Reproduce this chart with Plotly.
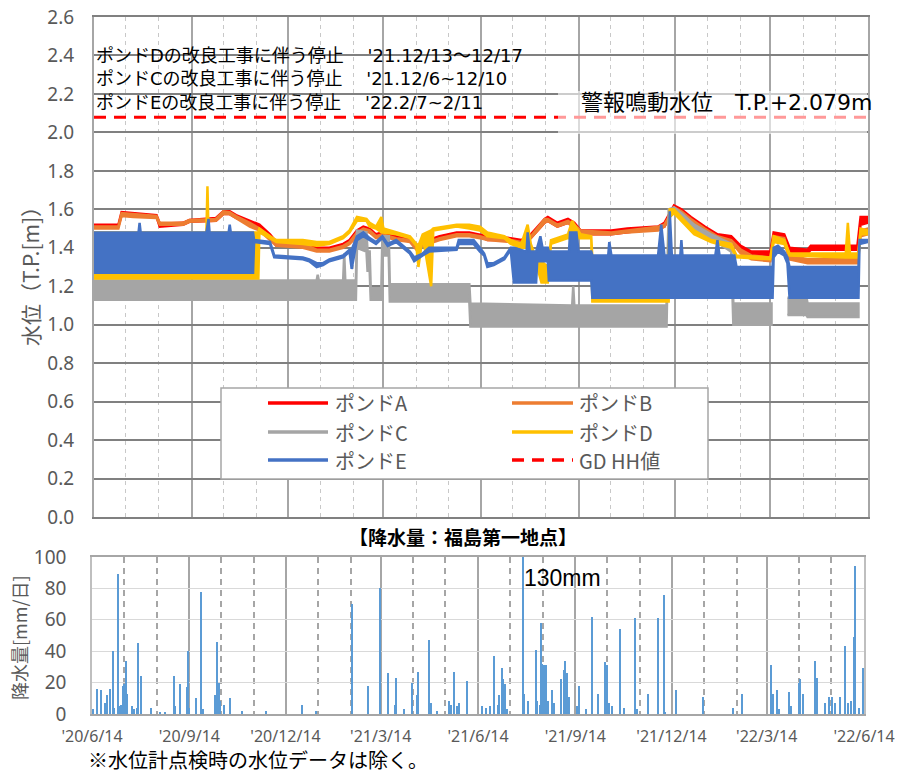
import plotly.graph_objects as go

W, H = 899, 774

# ---------------- water level envelopes (date, low, high) ----------------
# a None row splits a series into separate pieces
POND_A = [
    ("2020-06-14", 1.51, 1.52), ("2020-07-07", 1.51, 1.52), ("2020-07-10", 1.57, 1.585),
    ("2020-07-21", 1.565, 1.58), ("2020-08-12", 1.56, 1.57), ("2020-08-15", 1.51, 1.525),
    ("2020-09-06", 1.52, 1.53), ("2020-09-12", 1.535, 1.545), ("2020-10-07", 1.54, 1.555),
    ("2020-10-14", 1.575, 1.59), ("2020-10-20", 1.575, 1.59), ("2020-10-26", 1.555, 1.57),
    ("2020-11-08", 1.52, 1.54), ("2020-11-17", 1.50, 1.52), ("2020-11-27", 1.45, 1.47),
    ("2020-12-03", 1.41, 1.43), ("2020-12-28", 1.41, 1.43), ("2021-01-10", 1.385, 1.40),
    ("2021-01-22", 1.39, 1.40), ("2021-02-04", 1.41, 1.42), ("2021-02-10", 1.43, 1.44),
    ("2021-02-17", 1.47, 1.49), ("2021-02-23", 1.50, 1.51), ("2021-03-01", 1.48, 1.50),
    ("2021-03-07", 1.46, 1.47), ("2021-03-13", 1.47, 1.48), ("2021-03-26", 1.45, 1.46),
    ("2021-04-08", 1.44, 1.45), ("2021-04-14", 1.40, 1.41), ("2021-04-20", 1.42, 1.43),
    ("2021-05-06", 1.45, 1.46), ("2021-05-22", 1.47, 1.48), ("2021-06-03", 1.47, 1.48),
    ("2021-06-13", 1.46, 1.47), ("2021-06-20", 1.44, 1.46), ("2021-07-12", 1.44, 1.45),
    ("2021-07-22", 1.42, 1.44), ("2021-07-31", 1.45, 1.47), ("2021-08-13", 1.53, 1.55),
    ("2021-08-16", 1.54, 1.56), ("2021-08-25", 1.51, 1.53), ("2021-09-04", 1.53, 1.55),
    ("2021-09-10", 1.51, 1.53), ("2021-09-16", 1.47, 1.49), ("2021-10-15", 1.47, 1.49),
    ("2021-10-30", 1.48, 1.50), ("2021-11-28", 1.50, 1.51), ("2021-12-04", 1.51, 1.53),
    ("2021-12-13", 1.60, 1.62), ("2021-12-20", 1.58, 1.60), ("2021-12-29", 1.54, 1.56),
    ("2022-01-11", 1.49, 1.51), ("2022-01-23", 1.45, 1.47), ("2022-02-05", 1.44, 1.46),
    ("2022-02-14", 1.38, 1.41), ("2022-02-24", 1.36, 1.38), ("2022-03-14", 1.36, 1.38),
    ("2022-03-17", 1.46, 1.48), ("2022-03-27", 1.45, 1.47), ("2022-04-01", 1.38, 1.40),
    ("2022-04-18", 1.37, 1.39), ("2022-04-21", 1.39, 1.41), ("2022-06-04", 1.39, 1.41),
    ("2022-06-07", 1.52, 1.56), ("2022-06-14", 1.53, 1.56),
]

POND_B = [
    ("2020-06-14", 1.50, 1.51), ("2020-07-07", 1.50, 1.51), ("2020-07-10", 1.565, 1.58),
    ("2020-07-21", 1.56, 1.575), ("2020-08-12", 1.555, 1.565), ("2020-08-15", 1.52, 1.53),
    ("2020-09-06", 1.52, 1.53), ("2020-09-12", 1.535, 1.545), ("2020-10-07", 1.54, 1.55),
    ("2020-10-14", 1.575, 1.59), ("2020-10-20", 1.575, 1.585), ("2020-10-26", 1.555, 1.565),
    ("2020-11-08", 1.51, 1.53), ("2020-11-17", 1.49, 1.50), ("2020-11-27", 1.44, 1.46),
    ("2020-12-03", 1.41, 1.42), ("2020-12-28", 1.40, 1.42), ("2021-01-10", 1.38, 1.39),
    ("2021-01-22", 1.38, 1.39), ("2021-02-04", 1.40, 1.41), ("2021-02-10", 1.42, 1.43),
    ("2021-02-17", 1.46, 1.48), ("2021-02-23", 1.49, 1.50), ("2021-03-01", 1.48, 1.49),
    ("2021-03-07", 1.45, 1.46), ("2021-03-13", 1.46, 1.47), ("2021-03-26", 1.44, 1.45),
    ("2021-04-08", 1.43, 1.44), ("2021-04-14", 1.39, 1.40), ("2021-04-20", 1.41, 1.42),
    ("2021-05-06", 1.44, 1.45), ("2021-05-22", 1.46, 1.47), ("2021-06-03", 1.46, 1.47),
    ("2021-06-13", 1.45, 1.46), ("2021-06-20", 1.44, 1.45), ("2021-07-12", 1.43, 1.44),
    ("2021-07-22", 1.41, 1.43), ("2021-07-31", 1.45, 1.46), ("2021-08-13", 1.53, 1.55),
    ("2021-08-16", 1.54, 1.55), ("2021-08-25", 1.51, 1.52), ("2021-09-04", 1.53, 1.54),
    ("2021-09-10", 1.50, 1.52), ("2021-09-16", 1.47, 1.49), ("2021-10-15", 1.47, 1.48),
    ("2021-10-30", 1.48, 1.49), ("2021-11-28", 1.49, 1.51), ("2021-12-04", 1.51, 1.52),
    ("2021-12-13", 1.60, 1.61), ("2021-12-20", 1.57, 1.59), ("2021-12-29", 1.53, 1.55),
    ("2022-01-11", 1.48, 1.50), ("2022-01-23", 1.44, 1.46), ("2022-02-05", 1.43, 1.44),
    ("2022-02-14", 1.37, 1.39), ("2022-02-24", 1.34, 1.36), ("2022-03-14", 1.33, 1.35),
    ("2022-03-17", 1.44, 1.46), ("2022-03-27", 1.43, 1.45), ("2022-04-01", 1.34, 1.36),
    ("2022-04-18", 1.32, 1.34), ("2022-06-04", 1.32, 1.34), ("2022-06-07", 1.46, 1.49),
    ("2022-06-14", 1.47, 1.50),
]

POND_C = [
    ("2020-06-14", 1.13, 1.23), ("2021-01-10", 1.13, 1.23), ("2021-01-11", 1.13, 1.26),
    ("2021-01-12", 1.13, 1.23), ("2021-02-04", 1.13, 1.23), ("2021-02-05", 1.13, 1.37),
    ("2021-02-06", 1.13, 1.23), ("2021-02-16", 1.13, 1.23), ("2021-02-17", 1.40, 1.49),
    ("2021-02-26", 1.38, 1.48), ("2021-02-27", 1.28, 1.38), ("2021-03-01", 1.28, 1.38),
    ("2021-03-02", 1.13, 1.19), ("2021-03-12", 1.13, 1.19), ("2021-03-13", 1.36, 1.46),
    ("2021-03-19", 1.36, 1.46), ("2021-03-20", 1.12, 1.21), ("2021-06-03", 1.12, 1.21),
    ("2021-06-04", 0.99, 1.11), ("2021-09-08", 0.99, 1.10), ("2021-09-09", 0.99, 1.20),
    ("2021-09-10", 0.99, 1.10), ("2021-12-06", 0.99, 1.10), ("2021-12-08", 1.56, 1.60),
    ("2021-12-13", 1.58, 1.61), ("2021-12-20", 1.55, 1.58), ("2022-01-01", 1.50, 1.52),
    ("2022-01-17", 1.45, 1.47), ("2022-02-05", 1.38, 1.42), ("2022-02-07", 1.00, 1.11),
    ("2022-03-15", 1.00, 1.11),
    None,
    ("2022-03-30", 1.05, 1.14), ("2022-04-17", 1.05, 1.14), ("2022-04-18", 1.04, 1.11),
    ("2022-06-05", 1.04, 1.11),
]

POND_D = [
    ("2020-06-14", 1.24, 1.48), ("2020-09-28", 1.24, 1.48), ("2020-09-29", 1.24, 1.72),
    ("2020-09-30", 1.24, 1.48), ("2020-11-16", 1.24, 1.48), ("2020-11-17", 1.48, 1.50),
    ("2020-11-27", 1.45, 1.46), ("2020-12-03", 1.43, 1.44), ("2020-12-28", 1.42, 1.44),
    ("2021-01-10", 1.41, 1.43), ("2021-01-22", 1.42, 1.43), ("2021-02-04", 1.45, 1.46),
    ("2021-02-10", 1.48, 1.49), ("2021-02-17", 1.54, 1.56), ("2021-02-26", 1.54, 1.55),
    ("2021-03-01", 1.51, 1.53), ("2021-03-07", 1.50, 1.51), ("2021-03-12", 1.48, 1.56),
    ("2021-03-14", 1.48, 1.50), ("2021-03-26", 1.47, 1.48), ("2021-04-08", 1.45, 1.46),
    ("2021-04-14", 1.41, 1.42), ("2021-04-16", 1.30, 1.41), ("2021-04-20", 1.46, 1.47),
    ("2021-04-28", 1.20, 1.49), ("2021-04-30", 1.49, 1.50), ("2021-05-22", 1.51, 1.52),
    ("2021-06-03", 1.50, 1.52), ("2021-06-13", 1.49, 1.51), ("2021-06-20", 1.46, 1.48),
    ("2021-07-06", 1.45, 1.46), ("2021-07-12", 1.42, 1.44), ("2021-07-22", 1.40, 1.42),
    ("2021-07-28", 1.40, 1.52), ("2021-07-31", 1.40, 1.42), ("2021-08-06", 1.30, 1.33),
    ("2021-08-10", 1.22, 1.33), ("2021-08-16", 1.22, 1.30), ("2021-08-19", 1.42, 1.44),
    ("2021-09-04", 1.45, 1.47), ("2021-09-08", 1.45, 1.54), ("2021-09-16", 1.45, 1.47),
    ("2021-09-26", 1.45, 1.46), ("2021-09-27", 1.12, 1.35), ("2021-12-08", 1.12, 1.35),
    ("2021-12-09", 1.56, 1.60), ("2021-12-13", 1.58, 1.60), ("2021-12-20", 1.54, 1.56),
    ("2022-01-01", 1.47, 1.49), ("2022-01-17", 1.43, 1.44), ("2022-02-05", 1.40, 1.42),
    ("2022-02-10", 1.35, 1.36), ("2022-03-14", 1.34, 1.35), ("2022-03-17", 1.43, 1.46),
    ("2022-03-27", 1.42, 1.44), ("2022-04-01", 1.36, 1.37), ("2022-05-24", 1.35, 1.37),
    ("2022-05-26", 1.35, 1.53), ("2022-05-28", 1.35, 1.37), ("2022-06-05", 1.35, 1.37),
    ("2022-06-07", 1.47, 1.50), ("2022-06-14", 1.47, 1.49),
]

POND_E = [
    ("2020-06-14", 1.27, 1.48), ("2020-07-26", 1.27, 1.48), ("2020-07-27", 1.27, 1.53),
    ("2020-07-28", 1.27, 1.48), ("2020-09-28", 1.27, 1.48), ("2020-09-30", 1.27, 1.55),
    ("2020-10-01", 1.27, 1.48), ("2020-10-19", 1.27, 1.48), ("2020-10-20", 1.27, 1.52),
    ("2020-10-21", 1.27, 1.48), ("2020-11-11", 1.27, 1.48), ("2020-11-12", 1.43, 1.44),
    ("2020-11-27", 1.42, 1.43), ("2020-12-01", 1.35, 1.36), ("2020-12-28", 1.34, 1.35),
    ("2021-01-03", 1.33, 1.34), ("2021-01-10", 1.30, 1.32), ("2021-01-16", 1.31, 1.32),
    ("2021-01-22", 1.33, 1.34), ("2021-02-04", 1.35, 1.36), ("2021-02-10", 1.38, 1.39),
    ("2021-02-12", 1.29, 1.39), ("2021-02-17", 1.44, 1.46), ("2021-02-23", 1.46, 1.48),
    ("2021-03-01", 1.44, 1.45), ("2021-03-07", 1.42, 1.43), ("2021-03-13", 1.45, 1.46),
    ("2021-03-18", 1.41, 1.42), ("2021-03-26", 1.43, 1.44), ("2021-04-01", 1.40, 1.41),
    ("2021-04-08", 1.37, 1.38), ("2021-04-12", 1.33, 1.35), ("2021-04-20", 1.36, 1.37),
    ("2021-04-26", 1.38, 1.40), ("2021-05-22", 1.39, 1.40), ("2021-05-24", 1.42, 1.44),
    ("2021-06-07", 1.42, 1.44), ("2021-06-13", 1.38, 1.40), ("2021-06-17", 1.36, 1.37),
    ("2021-06-20", 1.30, 1.32), ("2021-06-26", 1.31, 1.32), ("2021-07-06", 1.34, 1.35),
    ("2021-07-12", 1.39, 1.40), ("2021-07-15", 1.22, 1.40), ("2021-07-27", 1.22, 1.38),
    ("2021-07-28", 1.22, 1.48), ("2021-07-30", 1.22, 1.38), ("2021-08-05", 1.22, 1.38),
    ("2021-08-06", 1.33, 1.40), ("2021-08-09", 1.33, 1.46), ("2021-08-11", 1.33, 1.40),
    ("2021-08-16", 1.33, 1.40), ("2021-08-17", 1.23, 1.38), ("2021-09-05", 1.23, 1.38),
    ("2021-09-06", 1.23, 1.48), ("2021-09-12", 1.23, 1.48), ("2021-09-14", 1.23, 1.38),
    ("2021-09-26", 1.23, 1.38), ("2021-09-27", 1.14, 1.36), ("2021-10-12", 1.14, 1.36),
    ("2021-10-13", 1.14, 1.43), ("2021-10-15", 1.14, 1.36), ("2021-11-28", 1.14, 1.36),
    ("2021-12-01", 1.14, 1.52), ("2021-12-04", 1.14, 1.36), ("2021-12-08", 1.14, 1.36),
    ("2021-12-09", 1.14, 1.59), ("2021-12-11", 1.14, 1.36), ("2021-12-19", 1.14, 1.36),
    ("2021-12-20", 1.14, 1.44), ("2021-12-21", 1.14, 1.36), ("2022-01-21", 1.14, 1.36),
    ("2022-01-23", 1.14, 1.44), ("2022-01-25", 1.14, 1.36), ("2022-02-08", 1.14, 1.36),
    ("2022-02-10", 1.14, 1.30), ("2022-03-16", 1.14, 1.30), ("2022-03-17", 1.35, 1.40),
    ("2022-03-21", 1.38, 1.41), ("2022-03-27", 1.36, 1.38), ("2022-03-30", 1.32, 1.35),
    ("2022-04-01", 1.14, 1.30), ("2022-06-05", 1.14, 1.30), ("2022-06-06", 1.42, 1.44),
    ("2022-06-14", 1.43, 1.44),
]

GD_HH = 2.079
GD_DATES = ["2020-06-14", "2022-06-14"]

# ---------------- daily rainfall at Fukushima Daiichi ----------------
RAIN_DATES = [
    "2020-06-15", "2020-06-19", "2020-06-23", "2020-06-26", "2020-06-28", "2020-07-01",
    "2020-07-04", "2020-07-05", "2020-07-09", "2020-07-10", "2020-07-12", "2020-07-13",
    "2020-07-14", "2020-07-16", "2020-07-17", "2020-07-22", "2020-07-24", "2020-07-27",
    "2020-07-28", "2020-07-30", "2020-08-09", "2020-08-17", "2020-08-22", "2020-08-31",
    "2020-09-01", "2020-09-05", "2020-09-12", "2020-09-13", "2020-09-14", "2020-09-20",
    "2020-09-25", "2020-09-27", "2020-10-08", "2020-10-10", "2020-10-12", "2020-10-13",
    "2020-10-17", "2020-10-23", "2020-11-03", "2020-11-26", "2020-12-30", "2021-01-12",
    "2021-02-15", "2021-03-02", "2021-03-13", "2021-03-21", "2021-03-28", "2021-03-29",
    "2021-04-05", "2021-04-13", "2021-04-17", "2021-04-18", "2021-04-29", "2021-05-01",
    "2021-05-06", "2021-05-18", "2021-05-20", "2021-05-22", "2021-05-25", "2021-05-27",
    "2021-06-04", "2021-06-18", "2021-06-22", "2021-06-25", "2021-06-29", "2021-07-03",
    "2021-07-04", "2021-07-07", "2021-07-08", "2021-07-10", "2021-07-12", "2021-07-27",
    "2021-07-28", "2021-07-31", "2021-08-08", "2021-08-09", "2021-08-12", "2021-08-13",
    "2021-08-14", "2021-08-16", "2021-08-17", "2021-08-19", "2021-08-23", "2021-08-25",
    "2021-09-01", "2021-09-03", "2021-09-04", "2021-09-06", "2021-09-08", "2021-09-16",
    "2021-09-18", "2021-09-24", "2021-09-30", "2021-10-06", "2021-10-12", "2021-10-14",
    "2021-10-16", "2021-10-19", "2021-10-26", "2021-10-30", "2021-11-10", "2021-11-11",
    "2021-11-22", "2021-12-01", "2021-12-07", "2021-12-08", "2021-12-18", "2022-01-13",
    "2022-02-10", "2022-02-19", "2022-03-18", "2022-03-20", "2022-03-24", "2022-03-26",
    "2022-04-04", "2022-04-06", "2022-04-14", "2022-04-15", "2022-04-17", "2022-04-29",
    "2022-05-01", "2022-05-08", "2022-05-12", "2022-05-15", "2022-05-18", "2022-05-22",
    "2022-05-27", "2022-05-30", "2022-06-02", "2022-06-05", "2022-06-06", "2022-06-09",
    "2022-06-13",
]
RAIN_MM = [
    3, 16, 15, 7, 12, 16,
    40, 4, 89, 5, 6, 18,
    19, 34, 13, 5, 3, 4,
    45, 24, 4, 1, 1, 24,
    5, 19, 17, 40, 4, 10,
    78, 3, 12, 46, 20, 8,
    6, 10, 2, 2, 6, 2,
    70, 18, 80, 26, 6, 23,
    3, 20, 12, 27, 47, 7,
    2, 8, 6, 27, 5, 7,
    21, 5, 4, 5, 37, 6,
    12, 29, 22, 19, 3, 130,
    13, 8, 41, 8, 6, 58,
    32, 31, 31, 8, 15, 7,
    22, 28, 34, 26, 11, 5,
    18, 3, 62, 13, 33, 31,
    7, 5, 54, 4, 61, 3,
    13, 61, 76, 1, 15, 11,
    4, 13, 31, 13, 15, 3,
    14, 5, 20, 22, 13, 34,
    23, 7, 11, 11, 7, 11,
    43, 7, 8, 49, 94, 4,
    29,
]

TICK_DATES = ["2020-06-14", "2020-09-14", "2020-12-14", "2021-03-14", "2021-06-14",
              "2021-09-14", "2021-12-14", "2022-03-14", "2022-06-14"]
TICK_TEXT = ["'20/6/14", "'20/9/14", "'20/12/14", "'21/3/14", "'21/6/14",
             "'21/9/14", "'21/12/14", "'22/3/14", "'22/6/14"]

SERIES = [
    ("ポンドA", POND_A, "#ff0000"),
    ("ポンドB", POND_B, "#ed7d31"),
    ("ポンドC", POND_C, "#a5a5a5"),
    ("ポンドD", POND_D, "#ffc000"),
    ("ポンドE", POND_E, "#4472c4"),
]

JP = "Noto Sans CJK JP"
MIXED = "DejaVu Sans, Noto Sans CJK JP"
GRAY_TXT = "#595959"


def px_x(p):
    return p / W


def px_y(p):
    return 1 - p / H


def band_xy(rows):
    """Closed outline (upper edge forward, lower edge back) for each piece."""
    pieces, cur = [], []
    for r in rows:
        if r is None:
            pieces.append(cur)
            cur = []
        else:
            cur.append(r)
    pieces.append(cur)
    xs, ys = [], []
    for seg in pieces:
        d = [r[0] for r in seg]
        lo = [r[1] for r in seg]
        hi = [r[2] for r in seg]
        xs += d + d[::-1] + [None]
        ys += hi + lo[::-1] + [None]
    return xs, ys


fig = go.Figure()

for name, rows, col in SERIES:
    xs, ys = band_xy(rows)
    fig.add_trace(go.Scatter(
        x=xs, y=ys, mode="lines", fill="toself", fillcolor=col,
        line=dict(color=col, width=2.5), name=name, showlegend=False,
        hoverinfo="skip", xaxis="x", yaxis="y",
    ))

fig.add_trace(go.Scatter(
    x=GD_DATES, y=[GD_HH, GD_HH], mode="lines",
    line=dict(color="#ff0000", width=3, dash="12px,8px"),
    name="GD HH値", showlegend=False, hoverinfo="skip", xaxis="x", yaxis="y",
))

fig.add_trace(go.Bar(
    x=RAIN_DATES, y=RAIN_MM, marker=dict(color="#5b9bd5", line=dict(width=0)),
    width=86400000 * 1.2, showlegend=False, hoverinfo="skip", xaxis="x2", yaxis="y2",
))

X_RANGE = ["2020-06-14", "2022-06-14"]

fig.update_layout(
    template="none",
    width=W, height=H, margin=dict(l=0, r=0, t=0, b=0, pad=0, autoexpand=False),
    paper_bgcolor="white", plot_bgcolor="white", bargap=0, showlegend=False,
    xaxis=dict(
        domain=[px_x(94), px_x(868)], range=X_RANGE, type="date", automargin=False,
        tickmode="array", tickvals=TICK_DATES, showticklabels=False, ticks="",
        showgrid=True, gridcolor="#a6a6a6", gridwidth=2,
        minor=dict(dtick="M1", tick0="2020-06-14", showgrid=True,
                   gridcolor="#c8c8c8", gridwidth=1, griddash="4px,4px"),
        showline=True, linecolor="#808080", linewidth=2, mirror=True,
        zeroline=False, anchor="y",
    ),
    yaxis=dict(
        domain=[px_y(517), px_y(17)], range=[0, 2.6], dtick=0.2, tick0=0,
        tickformat=".1f", showgrid=True, gridcolor="#808080", gridwidth=2,
        showline=True, linecolor="#a6a6a6", linewidth=2, mirror=True, automargin=False,
        zeroline=False, ticks="", ticklabelstandoff=14,
        tickfont=dict(family="Noto Sans", size=19, color=GRAY_TXT), anchor="x",
    ),
    xaxis2=dict(
        domain=[px_x(92), px_x(864)], range=X_RANGE, type="date", automargin=False,
        tickmode="array", tickvals=TICK_DATES, ticktext=TICK_TEXT, ticks="",
        tickfont=dict(family="Noto Sans", size=16, color=GRAY_TXT),
        ticklabelstandoff=7,
        showgrid=True, gridcolor="#a6a6a6", gridwidth=2,
        minor=dict(dtick="M1", tick0="2020-06-14", showgrid=True,
                   gridcolor="#a6a6a6", gridwidth=2, griddash="6px,5px"),
        showline=True, linecolor="#a6a6a6", linewidth=1.5, mirror=True,
        zeroline=False, anchor="y2",
    ),
    yaxis2=dict(
        domain=[px_y(714), px_y(557)], range=[0, 100], dtick=20, automargin=False,
        showgrid=True, gridcolor="#d9d9d9", gridwidth=1,
        showline=True, linecolor="#bfbfbf", linewidth=1.5, mirror=True,
        zeroline=False, ticks="", ticklabelstandoff=20,
        tickfont=dict(family="Noto Sans", size=19, color=GRAY_TXT), anchor="x2",
    ),
)

shapes = []
# light panel behind the alarm-level caption
shapes.append(dict(type="rect", xref="paper", yref="paper", layer="above",
                   x0=px_x(558), x1=px_x(867), y0=px_y(134), y1=px_y(91),
                   fillcolor="rgba(255,255,255,0.6)", line=dict(width=0)))

# legend box
LEG_ROWS = [403, 432, 460]
LEG_COLS = [(268, 328, 333), (512, 573, 577)]
LEGEND = [
    (0, 0, "ポンドA", "#ff0000", "solid"),
    (1, 0, "ポンドB", "#ed7d31", "solid"),
    (0, 1, "ポンドC", "#a5a5a5", "solid"),
    (1, 1, "ポンドD", "#ffc000", "solid"),
    (0, 2, "ポンドE", "#4472c4", "solid"),
    (1, 2, "GD HH値", "#ff0000", "dash"),
]
shapes.append(dict(type="rect", xref="paper", yref="paper", layer="above",
                   x0=px_x(221), x1=px_x(708), y0=px_y(479), y1=px_y(388),
                   fillcolor="white", line=dict(color="#a6a6a6", width=1.5)))
annotations = []
for ci, ri, label, col, dash in LEGEND:
    x0, x1, xt = LEG_COLS[ci]
    yy = px_y(LEG_ROWS[ri])
    shapes.append(dict(type="line", xref="paper", yref="paper", layer="above",
                       x0=px_x(x0), x1=px_x(x1), y0=yy, y1=yy,
                       line=dict(color=col, width=3.5,
                                 dash="12px,8px" if dash == "dash" else "solid")))
    annotations.append(dict(xref="paper", yref="paper", x=px_x(xt), y=yy,
                            xanchor="left", yanchor="middle", showarrow=False,
                            text=label, font=dict(family=JP, size=20, color=GRAY_TXT)))

NOTES = [
    "ポンドDの改良工事に伴う停止　 '21.12/13～12/17",
    "ポンドCの改良工事に伴う停止　 '21.12/6~12/10",
    "ポンドEの改良工事に伴う停止　 '22.2/7~2/11",
]
annotations.append(dict(xref="paper", yref="paper", x=px_x(94), y=px_y(79),
                        xanchor="left", yanchor="middle", align="left", showarrow=False,
                        text="<br>".join(NOTES),
                        font=dict(family=MIXED, size=18, color="black")))

annotations += [
    dict(xref="paper", yref="paper", x=px_x(579), y=px_y(103), xanchor="left",
         yanchor="middle", showarrow=False, text="警報鳴動水位　T.P.+2.079m",
         font=dict(family=MIXED, size=22, color="black")),
    dict(xref="paper", yref="paper", x=px_x(30), y=px_y(271), xanchor="center",
         yanchor="middle", showarrow=False, textangle=-90, text="水位（T.P.[m]）",
         font=dict(family=JP, size=21, color=GRAY_TXT)),
    dict(xref="paper", yref="paper", x=px_x(463), y=px_y(536), xanchor="center",
         yanchor="middle", showarrow=False, text="<b>【降水量：福島第一地点】</b>",
         font=dict(family=JP, size=19, color="black")),
    dict(xref="paper", yref="paper", x=px_x(19), y=px_y(638), xanchor="center",
         yanchor="middle", showarrow=False, textangle=-90, text="降水量[mm/日]",
         font=dict(family=JP, size=18, color=GRAY_TXT)),
    dict(xref="paper", yref="paper", x=px_x(522), y=px_y(578), xanchor="left",
         yanchor="middle", showarrow=False, text="130mm",
         font=dict(family="Liberation Sans", size=23, color="black")),
    dict(xref="paper", yref="paper", x=px_x(86), y=px_y(759), xanchor="left",
         yanchor="middle", showarrow=False, text="※水位計点検時の水位データは除く。",
         font=dict(family=JP, size=20, color="black")),
]

fig.update_layout(shapes=shapes, annotations=annotations)
fig.write_html("out.html")
